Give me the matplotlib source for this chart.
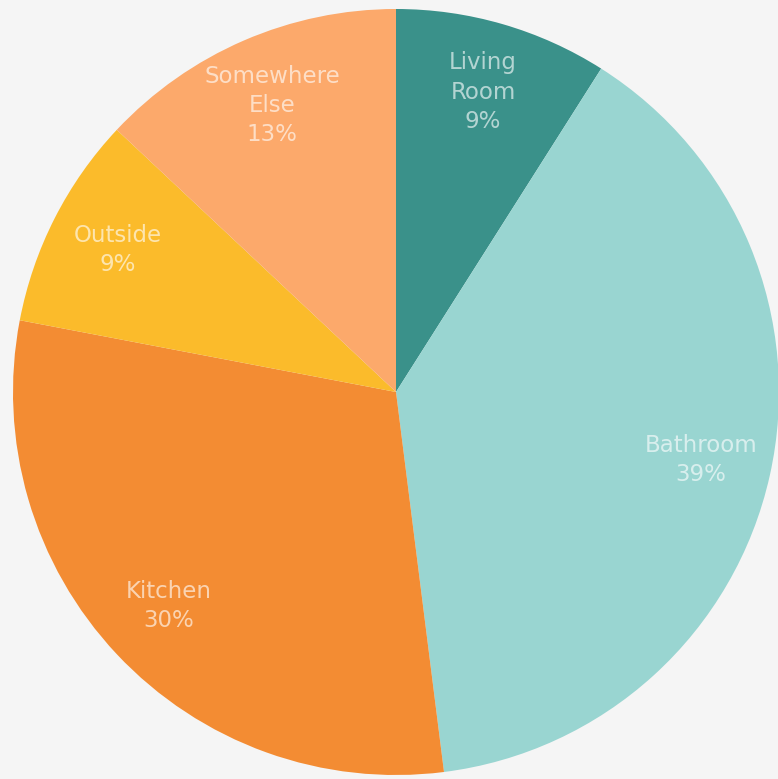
import matplotlib.pyplot as plt

rooms = ['Living\nRoom', 'Bathroom', 'Kitchen', 'Outside', 'Somewhere\nElse']
shares = [9, 39, 30, 9, 13]
colors = ['#3a918a', '#99d5d1', '#f38c33', '#fbbb2b', '#fca96b']

labels = [f'{r}\n{s}%' for r, s in zip(rooms, shares)]

fig = plt.figure(figsize=(7.78, 7.79), dpi=100, facecolor='#f5f5f5')
ax = fig.add_axes([0, 0, 1, 1])
ax.set_facecolor('#f5f5f5')

wedges, texts = ax.pie(
    shares,
    labels=labels,
    colors=colors,
    startangle=90,
    counterclock=False,
    labeldistance=0.815,
    radius=1.0,
)
for t in texts:
    t.set_ha('center')
    t.set_va('center')
    t.set_color('white')
    t.set_alpha(0.62)
    t.set_family('DejaVu Sans')
    t.set_fontsize(16.5)
    t.set_linespacing(1.35)

# pie centre sits at roughly (396, 392) px from top-left, radius ~383 px
R = 383.0
ax.set_xlim(-396 / R, (778 - 396) / R)
ax.set_ylim(-(779 - 392) / R, 392 / R)
ax.set_aspect('auto')
ax.axis('off')

plt.savefig('out.png', dpi=100, facecolor=fig.get_facecolor())
